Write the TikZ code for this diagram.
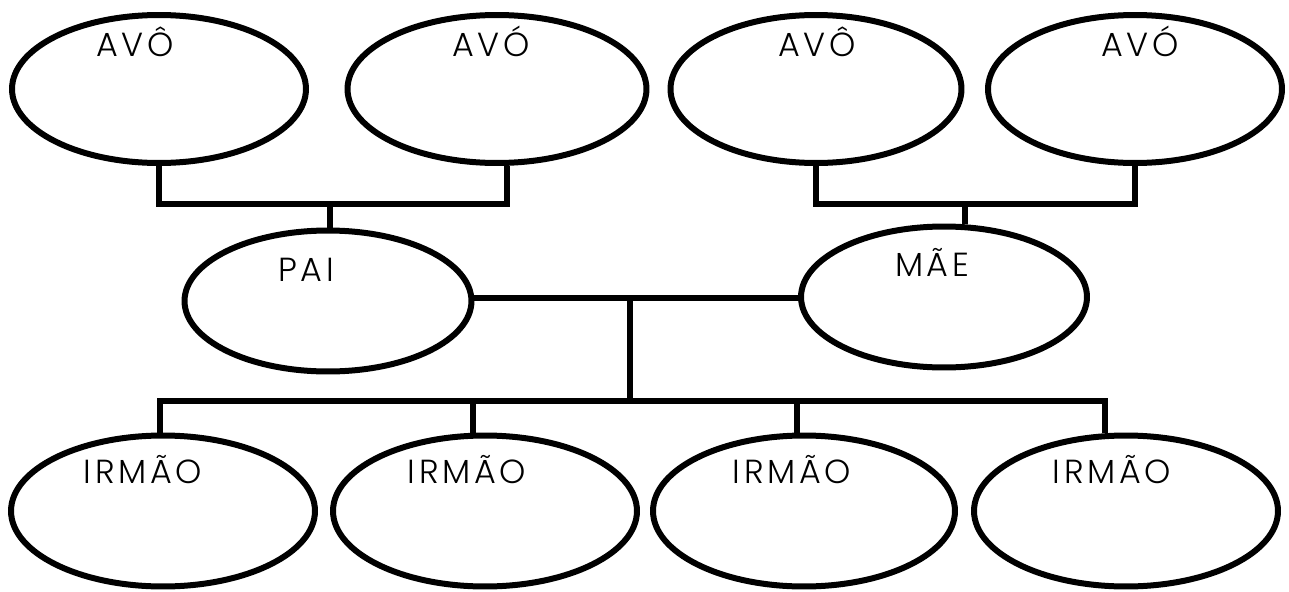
\documentclass[tikz,border=0pt]{standalone}
\usepackage{fontspec}
\setmainfont{Poppins}[UprightFont={* Light}, LetterSpace=11]
\usetikzlibrary{shapes.geometric}
\tikzset{
  person/.style={ellipse, draw=black, line width=0.12cm, inner sep=0pt,
    minimum width=5.88cm, minimum height=2.96cm},
  conn/.style={draw=black, line width=0.13cm, line join=miter},
  lbl/.style={anchor=base, inner sep=0pt, font=\fontsize{19}{21}\selectfont}
}
\begin{document}
\begin{tikzpicture}[x=0.02cm, y=-0.02cm]
\useasboundingbox (0,0) rectangle (1289,592);
% grandparents
\node[person] (g1) at (159,89) {};
\node[person, minimum width=5.98cm] (g2) at (497,89) {};
\node[person, minimum width=5.82cm] (g3) at (816,89) {};
\node[person] (g4) at (1135,89) {};
% parents
\node[person, minimum width=5.74cm, minimum height=2.82cm] (pai) at (328,301) {};
\node[person, minimum width=5.72cm, minimum height=2.82cm] (mae) at (944,297) {};
% siblings
\node[person, minimum width=6.08cm, minimum height=3.02cm] (s1) at (163,511) {};
\node[person, minimum width=6.08cm, minimum height=3.02cm] (s2) at (485,511) {};
\node[person, minimum width=6.04cm, minimum height=3.02cm] (s3) at (804,511) {};
\node[person, minimum width=6.08cm, minimum height=3.02cm] (s4) at (1126,511) {};
% labels
\node[lbl] (lg1) at (135,56) {AVÔ};
\node[lbl] (lg2) at (491,56) {AVÓ};
\node[lbl] (lg3) at (817,56) {AVÔ};
\node[lbl] (lg4) at (1140,56) {AVÓ};
\node[lbl] (lpai) at (306,281) {PAI};
\node[lbl] (lmae) at (932,276) {MÃE};
\node[lbl] (ls1) at (143,483) {IRMÃO};
\node[lbl] (ls2) at (467,483) {IRMÃO};
\node[lbl] (ls3) at (792,483) {IRMÃO};
\node[lbl] (ls4) at (1112,483) {IRMÃO};
% junction points
\coordinate (jL) at (330,204);
\coordinate (jR) at (965,204);
\coordinate (g2d) at (507,204);
\coordinate (mid) at (630,298);
\coordinate (b1) at (160,401);
\coordinate (b2) at (473,401);
\coordinate (b3) at (797,401);
\coordinate (b4) at (1105,401);
\coordinate (bm) at (630,401);
% connectors
\draw[conn] (g1.south) -- (g1.south |- jL) -- (g2d) -- (g2d |- g2.south);
\draw[conn] (jL) -- (jL |- pai.north);
\draw[conn] (g3.south) -- (g3.south |- jR) -- (g4.south |- jR) -- (g4.south);
\draw[conn] (jR) -- (jR |- mae.north);
\draw[conn] (pai.east |- mid) -- (mae.west |- mid);
\draw[conn] (mid) -- (bm);
\draw[conn] (b1 |- s1.north) -- (b1) -- (b4) -- (b4 |- s4.north);
\draw[conn] (b2) -- (b2 |- s2.north);
\draw[conn] (b3) -- (b3 |- s3.north);
\end{tikzpicture}
\end{document}
